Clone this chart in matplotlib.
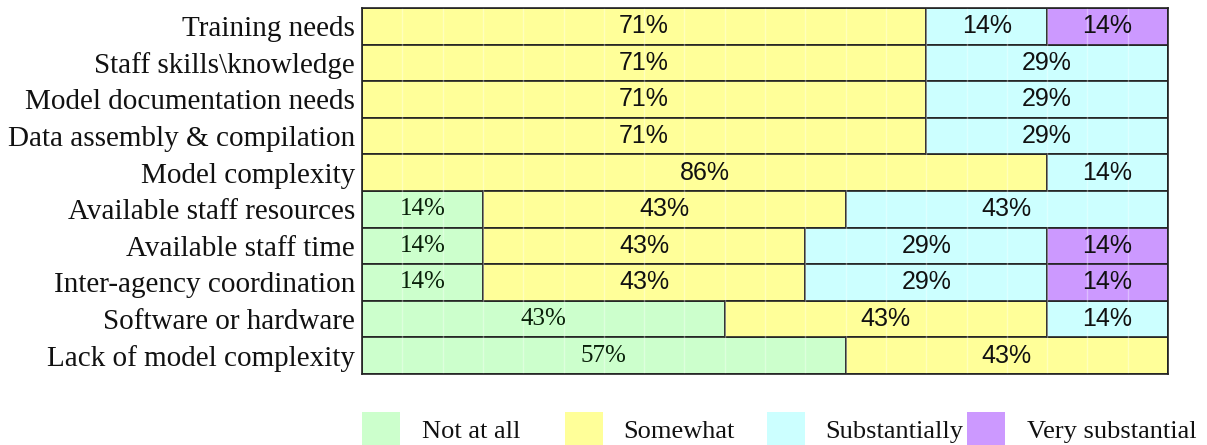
import matplotlib
matplotlib.use("Agg")
import matplotlib.pyplot as plt
from matplotlib.patches import Rectangle
import numpy as np

categories = [
    "Training needs",
    "Staff skills\\knowledge",
    "Model documentation needs",
    "Data assembly & compilation",
    "Model complexity",
    "Available staff resources",
    "Available staff time",
    "Inter-agency coordination",
    "Software or hardware",
    "Lack of model complexity",
]
series_names = ["Not at all", "Somewhat", "Substantially", "Very substantial"]
# drawn segment widths (percent of bar)
not_at_all = [0, 0, 0, 0, 0, 15, 15, 15, 45, 60]
somewhat = [70, 70, 70, 70, 85, 45, 40, 40, 40, 40]
substantially = [15, 30, 30, 30, 15, 40, 30, 30, 15, 0]
very_substantial = [15, 0, 0, 0, 0, 0, 15, 15, 0, 0]
# printed labels
lbl_not_at_all = ["", "", "", "", "", "14%", "14%", "14%", "43%", "57%"]
lbl_somewhat = ["71%", "71%", "71%", "71%", "86%", "43%", "43%", "43%", "43%", "43%"]
lbl_substantially = ["14%", "29%", "29%", "29%", "14%", "43%", "29%", "29%", "14%", ""]
lbl_very_substantial = ["14%", "", "", "", "", "", "14%", "14%", "", ""]

colors = ["#CCFFCC", "#FFFF99", "#CCFFFF", "#CC99FF"]

W, H = 1207, 445
fig = plt.figure(figsize=(W / 100, H / 100), dpi=100)
ax = fig.add_axes([362 / W, 1 - 374 / H, (1168 - 362) / W, (374 - 8) / H])

series = [not_at_all, somewhat, substantially, very_substantial]
labels = [lbl_not_at_all, lbl_somewhat, lbl_substantially, lbl_very_substantial]
y = np.arange(len(categories))
left = np.zeros(len(categories))
for k, (vals, lbls) in enumerate(zip(series, labels)):
    vals = np.array(vals, dtype=float)
    ax.barh(y, vals, left=left, height=1.0, color=colors[k],
            edgecolor="#222222", linewidth=1.2, zorder=2)
    for i, (v, t) in enumerate(zip(vals, lbls)):
        if v > 0 and t:
            if k == 0:
                ax.text(left[i] + v / 2, y[i], t, ha="center", va="center",
                        fontsize=18, family="Liberation Serif", color="#0a200a", zorder=4)
            else:
                ax.text(left[i] + v / 2, y[i], t, ha="center", va="center",
                        fontsize=18, family="Liberation Sans", color="#111111", zorder=4)
    left += vals

# faint white grid lines
for gx in np.arange(5, 100, 5):
    ax.axvline(gx, color="white", alpha=0.35, linewidth=1.0, zorder=3)

ax.set_xlim(0, 100)
ax.set_ylim(len(categories) - 0.5, -0.5)
ax.set_yticks(y)
ax.set_yticklabels(categories, family="Liberation Serif", fontsize=21, color="#111111")
ax.set_xticks([])
ax.tick_params(axis="y", length=0, pad=5)
for s in ax.spines.values():
    s.set_color("#222222")
    s.set_linewidth(1.2)
    s.set_zorder(5)

# legend drawn manually
patch_x = [362, 565, 767, 967]
text_x = [422, 623, 825, 1027]
for k in range(4):
    fig.add_artist(Rectangle((patch_x[k] / W, -10 / H), 38 / W, (33 + 10) / H,
                             transform=fig.transFigure, facecolor=colors[k],
                             edgecolor="none"))
    fig.text(text_x[k] / W, 7 / H, series_names[k], family="Liberation Serif",
             fontsize=19, color="#111111", ha="left", va="baseline")

fig.savefig("out.png", dpi=100, facecolor="white")
